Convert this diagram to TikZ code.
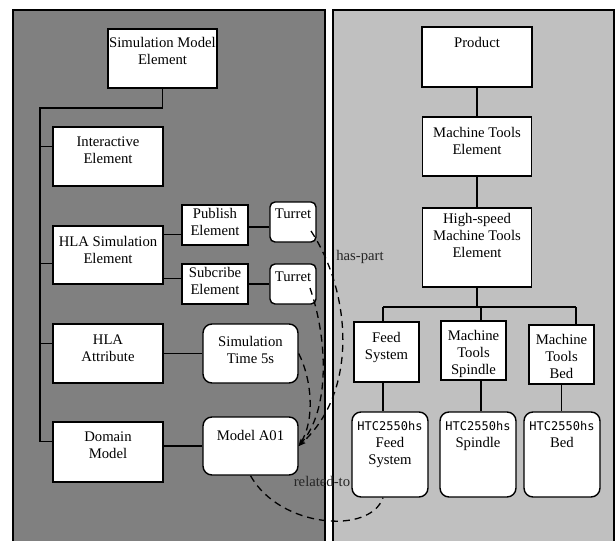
\documentclass[tikz,border=0pt]{standalone}
\usepackage{fontspec}
\setmainfont{Liberation Serif}
\newfontfamily\monofont{DejaVu Sans Mono}
\usetikzlibrary{arrows.meta,calc}

% box contents: width, height, top padding, centred lines
\newcommand\bt[4]{\vbox to #2pt{\vskip#3pt\hbox to #1pt{\hss\begin{tabular}[t]{@{}c@{}}#4\end{tabular}\hss}\vss}}
\newcommand\htc{{\monofont\fontsize{12}{17}\selectfont HTC2550hs}}

\definecolor{simpanel}{HTML}{808080}
\definecolor{prodpanel}{HTML}{C0C0C0}

\tikzset{
  box/.style={draw, line width=1.4pt, fill=white, inner sep=0pt},
  rbox/.style={box, rounded corners=9pt},
  tbox/.style={box, rounded corners=5pt},
  link/.style={line width=1.4pt},
  rel/.style={line width=1.3pt, dash pattern=on 7pt off 5pt},
  relhead/.style={-{Stealth[length=7pt,width=5pt]}},
  lbl/.style={inner sep=0pt, text=black!85},
}

\begin{document}
\begin{tikzpicture}[x=1pt, y=-1pt, font=\fontsize{14.7}{17}\selectfont]
\useasboundingbox (0,0) rectangle (616,541);

% panels
\fill[simpanel] (13,560) rectangle (325,10);
\draw[line width=2pt] (13,560) -- (13,10) -- (325,10) -- (325,560);
\fill[prodpanel] (333,560) rectangle (614,10);
\draw[line width=2pt] (333,560) -- (333,10) -- (614,10) -- (614,560);

% simulation model side
\node[box] (sme) at (162.5,58.5) {\bt{109}{59}{7}{Simulation Model\\Element}};
\node[box] (ie)  at (108,156.5) {\bt{110}{59}{8}{Interactive\\Element}};
\node[box] (hse) at (108,255)   {\bt{110}{58}{9}{HLA Simulation\\Element}};
\node[box] (ha)  at (108,353.5) {\bt{110}{59}{9}{HLA\\Attribute}};
\node[box] (dm)  at (108,452)   {\bt{110}{60}{8}{Domain\\Model}};
\node[box] (pub) at (215,225)   {\bt{66}{40}{2}{Publish\\Element}};
\node[box] (sub) at (215,284)   {\bt{66}{40}{2}{Subcribe\\Element}};
\node[tbox] (tur1) at (293,222) {\bt{46}{40}{5}{Turret}};
\node[tbox] (tur2) at (293,284) {\bt{46}{40}{6}{Turret}};
\node[rbox] (st) at (250.5,353.5) {\bt{95}{59}{11}{Simulation\\Time 5s}};
\node[rbox] (ma) at (250.5,446)   {\bt{95}{58}{12}{Model A01}};

% product side
\node[box] (prod) at (477,57)    {\bt{110}{60}{9}{Product}};
\node[box] (mte)  at (477,146.5) {\bt{109}{59}{9}{Machine Tools\\Element}};
\node[box] (hs)   at (477,247.5) {\bt{109}{79}{4}{High-speed\\Machine Tools\\Element}};
\node[box] (fs)   at (386.5,352) {\bt{65}{60}{9}{Feed\\System}};
\node[box] (mts)  at (473.5,350.5) {\bt{65}{59}{8}{Machine\\Tools\\Spindle}};
\node[box] (mtb)  at (561.5,354.5) {\bt{65}{59}{8}{Machine\\Tools\\Bed}};
\node[rbox] (hfs) at (390,454.5) {\bt{76}{85}{7}{\htc\\Feed\\System}};
\node[rbox] (hsp) at (478,454.5) {\bt{76}{85}{7}{\htc\\Spindle}};
\node[rbox] (hbd) at (562,454.5) {\bt{76}{85}{7}{\htc\\Bed}};

% tree on the simulation side
\coordinate (tk) at (40,108);
\coordinate (ieL)  at ([yshift=-20pt]ie.north west);
\coordinate (hseL) at ([yshift=-38pt]hse.north west);
\coordinate (haL)  at ([yshift=-20pt]ha.north west);
\coordinate (dmL)  at ([yshift=-20pt]dm.north west);
\draw[link] (sme.south) |- (tk) |- (dmL);
\draw[link] (ieL) -- (ieL -| tk);
\draw[link] (hseL) -- (hseL -| tk);
\draw[link] (haL) -- (haL -| tk);
\coordinate (hseR1) at ([yshift=-9pt]hse.north east);
\coordinate (hseR2) at ([yshift=-53pt]hse.north east);
\draw[link] (hseR1) -- (hseR1 -| pub.west);
\draw[link] (hseR2) -- (hseR2 -| sub.west);
\draw[link] ([yshift=-2pt]pub.east) -- ([yshift=-2pt]pub.east -| tur1.west);
\draw[link] (sub.east) -- (sub.east -| tur2.west);
\draw[link] (ha.east) -- (st.west);
\draw[link] (ma.west -| dm.east) -- (ma.west);

% tree on the product side
\coordinate (busL) at (383,307);
\coordinate (busC) at (481,307);
\coordinate (busR) at (576,307);
\draw[link] (prod.south) -- (mte.north);
\draw[link] (mte.south) -- (hs.north);
\draw[link] (hs.south) -- (hs.south |- busC);
\draw[link] (busL) -- (busR);
\draw[link] (busL) -- (busL |- fs.north);
\draw[link] (busC) -- (busC |- mts.north);
\draw[link] (busR) -- (busR |- mtb.north);
\draw[link] (busL |- fs.south) -- (busL |- hfs.north);
\draw[link] (busC |- mts.south) -- (busC |- hsp.north);
\draw[link] (mtb.south) -- (mtb.south |- hbd.north);

% relations between the two models
\draw[rel, relhead] ([shift={(18,9)}]tur1.center) .. controls (350,290) and (360,390) .. (ma.east);
\draw[rel, relhead] ([shift={(17,4)}]tur2.center) .. controls (328,340) and (330,410) .. (ma.east);
\draw[rel, relhead] (st.east) .. controls (312,380) and (315,420) .. (ma.east);
\draw[rel] (ma.south) .. controls (280,528) and (370,535) .. ([xshift=-7pt]hfs.south);

\node[lbl] (haspart) at (360,257) {has-part};
\node[lbl] (relto) at (322,481) {related-to};
\end{tikzpicture}
\end{document}
